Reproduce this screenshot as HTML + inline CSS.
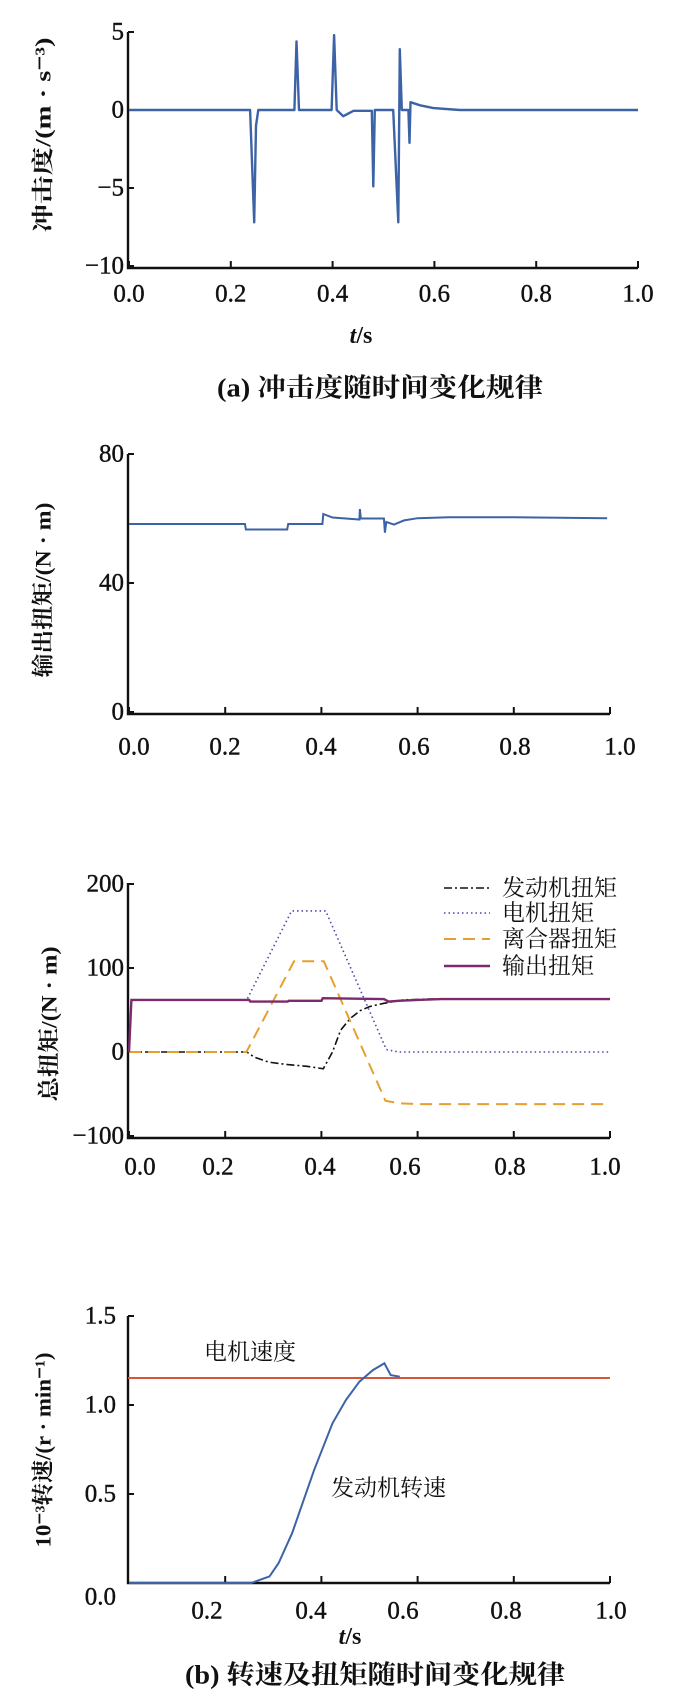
<!DOCTYPE html>
<html><head><meta charset="utf-8">
<style>
html,body{margin:0;padding:0;background:#fff;}
svg{display:block;}
text{font-family:"Liberation Serif","Noto Serif CJK SC",serif;fill:#111;}
</style></head>
<body>
<svg id="fig" width="700" height="1702" viewBox="0 0 700 1702" xmlns="http://www.w3.org/2000/svg"></svg>
<script>
// ---- Chart 1: jerk ----
const jerkT = [0,0.238,0.246,0.2495,0.254,0.325,0.329,0.334,0.398,0.403,0.408,0.421,0.441,0.477,0.480,0.483,0.519,0.529,0.532,0.536,0.549,0.551,0.553,0.572,0.598,0.650,1.0];
const jerkV = [0,0,-7.2,-1,0,0,4.4,0,0,4.8,0,-0.4,-0.05,-0.05,-4.9,0,0,-7.2,3.9,0,0,-2.1,0.5,0.3,0.12,0,0];
const jerkYTicks = [5,0,-5,-10];
const xTicks = [0,0.2,0.4,0.6,0.8,1.0];
const xTickLabels = ["0.0","0.2","0.4","0.6","0.8","1.0"];
// ---- Chart 2: output torque ----
const outT = [0,0.241,0.243,0.329,0.331,0.402,0.404,0.423,0.479,0.480,0.482,0.530,0.532,0.535,0.551,0.572,0.600,0.665,0.800,0.994];
const outV = [58.3,58.3,56.6,56.6,58.3,58.3,61.4,60.3,59.7,62.9,60.0,60.0,55.6,58.9,58.1,59.4,60.1,60.4,60.4,60.1];
const outYTicks = [80,40,0];
// ---- Chart 3: torques ----
const engT = [0,0.245,0.26,0.29,0.33,0.37,0.404,0.423,0.44,0.46,0.48,0.50,0.53,0.57,0.62,1.0];
const engV = [0,0,-6,-12,-15,-17,-20,0,26,40,49,54,58,62,63,63];
const motT = [0.005,0.245,0.338,0.409,0.535,0.56,1.0];
const motV = [62,62,168,168,3,0,0];
const cluT = [0,0.244,0.343,0.405,0.533,0.56,0.6,1.0];
const cluV = [0,0,108,108,-58,-61,-62,-62];
const totT = [0,0.005,0.25,0.252,0.33,0.332,0.40,0.403,0.53,0.54,0.56,0.6,0.65,1.0];
const totV = [0,62,62,60,60,61,61,64,63,60,61,62,63,63];
const totYTicks = [200,100,0,-100];
const legendLabels = ["发动机扭矩","电机扭矩","离合器扭矩","输出扭矩"];
// ---- Chart 4: speeds ----
const spdT = [0,0.254,0.292,0.311,0.339,0.385,0.423,0.451,0.479,0.507,0.531,0.544,0.563];
const spdV = [0,0,0.037,0.112,0.28,0.636,0.897,1.028,1.131,1.196,1.234,1.168,1.159];
const motorSpeed = [1.152];
const spdYTicks = [1.5,1.0,0.5,0.0];
const spdYTickLabels = ["1.5","1.0","0.5","0.0"];
const spdXTicks = [0.2,0.4,0.6,0.8,1.0];
const spdXTickLabels = ["0.2","0.4","0.6","0.8","1.0"];

const NS="http://www.w3.org/2000/svg";
const svg=document.getElementById('fig');
function mk(tag,attrs,parent){const e=document.createElementNS(NS,tag);for(const k in attrs)e.setAttribute(k,attrs[k]);(parent||svg).appendChild(e);return e;}
function txt(s,x,y,size,anchor,parent,extra){const e=mk('text',Object.assign({x:x,y:y,'font-size':size,'text-anchor':anchor||'middle','dominant-baseline':'central'},extra||{}),parent);e.textContent=s;return e;}
function linScale(d0,d1,r0,r1){return v=>r0+(v-d0)*(r1-r0)/(d1-d0);}
function pathD(ts,vs,sx,sy){return ts.map((t,i)=>(i?'L':'M')+sx(t).toFixed(1)+','+sy(vs[i]).toFixed(1)).join(' ');}
const TICKSTYLE={'stroke':'#111','stroke-width':0.4};
function axes(g,x0,x1,yTop,yAxis,sx,sy,yt,ytl,xt,xtl,xLabY,xLabX){
  const a=mk('path',{d:`M${x0},${yTop} L${x0},${yAxis} L${x1},${yAxis}`,fill:'none',stroke:'#111','stroke-width':2.4},g);
  
  
  yt.forEach((v,i)=>{
    const y=sy(v);
    mk('line',{x1:x0,x2:x0+6,y1:y,y2:y,stroke:'#111','stroke-width':2},g);
    const l=txt(ytl[i],x0-4,y,25,'end',g,TICKSTYLE);
    
    
  });
  xt.forEach((v,i)=>{
    const x=sx(v);
    mk('line',{x1:x,x2:x,y1:yAxis,y2:yAxis-7,stroke:'#111','stroke-width':2},g);
    const l=txt(xtl[i],xLabX?xLabX[i]:x,xLabY,25,'middle',g,TICKSTYLE);
    
    
  });
}
function ylabel(s,x,y,len,g){
  const e=txt(s,0,0,22,'middle',g,{transform:`translate(${x},${y}) rotate(-90)`,textLength:len,lengthAdjust:'spacingAndGlyphs','font-weight':'bold'});
  
  
}

// Chart 1
{
const g=mk('g',{});


const sx=linScale(0,1,129,638), sy=linScale(0,5,110,32);
axes(g,128,638,32,268,sx,sy,jerkYTicks,jerkYTicks.map(v=>v<0?'−'+(-v):String(v)),xTicks,xTickLabels,294);
const p=mk('path',{d:pathD(jerkT,jerkV,sx,sy),fill:'none',stroke:'#3c63a6','stroke-width':2.4,'stroke-linejoin':'round'},g);


ylabel('冲击度/(m · s⁻³)',43,135,195,g);
const xl=txt('',361,336,24,'middle',g,{'font-weight':'bold'});xl.innerHTML='<tspan font-style="italic">t</tspan>/s';


const c=txt('(a) 冲击度随时间变化规律',380,388,26,'middle',g,{textLength:326,lengthAdjust:'spacingAndGlyphs','font-weight':'bold'});


}
// Chart 2
{
const g=mk('g',{});


const sx=linScale(0,1,129,610), sy=linScale(0,80,712,454);
axes(g,128,610,454,714,sx,sy,outYTicks,outYTicks.map(String),xTicks,xTickLabels,747,[134,225,321,414,515,620]);
const p=mk('path',{d:pathD(outT,outV,sx,sy),fill:'none',stroke:'#3c63a6','stroke-width':2},g);


ylabel('输出扭矩/(N · m)',43,590,175,g);
}
// Chart 3
{
const g=mk('g',{});


const sx=linScale(0,1,129,610), sy=linScale(0,100,1052,968);
axes(g,128,610,883,1138,sx,sy,totYTicks,totYTicks.map(v=>v<0?'−'+(-v):String(v)),xTicks,xTickLabels,1167,[140,218,320,405,510,605]);
const styles=[
 {t:engT,v:engV,c:'#111',w:1.6,da:'8,3,2,3',n:'engine-torque-line'},
 {t:motT,v:motV,c:'#4a4aa8',w:1.6,da:'1.5,3',n:'motor-torque-line'},
 {t:cluT,v:cluV,c:'#e6a030',w:2,da:'12,7',n:'clutch-torque-line'},
 {t:totT,v:totV,c:'#7b2a6e',w:2.4,da:'',n:'output-torque-line'}];
styles.forEach((s,i)=>{
  const p=mk('path',{d:pathD(s.t,s.v,sx,sy),fill:'none',stroke:s.c,'stroke-width':s.w,'stroke-dasharray':s.da},g);
  
  
  const ly=[888,913,939,966][i];
  const l=mk('line',{x1:444,x2:490,y1:ly,y2:ly,stroke:s.c,'stroke-width':s.w,'stroke-dasharray':s.da},g);
  
  
  const t=txt(legendLabels[i],502,ly,23,'start',g);
  
  
});
ylabel('总扭矩/(N · m)',49,1024,155,g);
}
// Chart 4
{
const g=mk('g',{});


const sx=linScale(0,1,129,610), sy=linScale(0,1,1583,1405);
const a=mk('path',{d:'M128,1316 L128,1583 L610,1583',fill:'none',stroke:'#111','stroke-width':2.4},g);


spdYTicks.forEach((v,i)=>{
  const y=sy(v);
  if(v>0) mk('line',{x1:128,x2:134,y1:y,y2:y,stroke:'#111','stroke-width':2},g);
  const l=txt(spdYTickLabels[i],116,v===0?1597:y,25,'end',g,TICKSTYLE);
  
  
});
const xl2=[207,311,403,506,611];
spdXTicks.forEach((v,i)=>{
  const x=sx(v);
  mk('line',{x1:x,x2:x,y1:1583,y2:1576,stroke:'#111','stroke-width':2},g);
  const l=txt(spdXTickLabels[i],xl2[i],1611,25,'middle',g,TICKSTYLE);
  
  
});
const m=mk('line',{x1:128,x2:610,y1:sy(motorSpeed[0]),y2:sy(motorSpeed[0]),stroke:'#d9553a','stroke-width':2},g);


const p=mk('path',{d:pathD(spdT,spdV,sx,sy),fill:'none',stroke:'#3c63a6','stroke-width':2},g);


const t1=txt('电机速度',204,1352,23,'start',g);


const t2=txt('发动机转速',331,1488,23,'start',g);


ylabel('10⁻³转速/(r · min⁻¹)',43,1450,195,g);
const xl=txt('',350,1637,24,'middle',g,{'font-weight':'bold'});xl.innerHTML='<tspan font-style="italic">t</tspan>/s';


const c=txt('(b) 转速及扭矩随时间变化规律',375,1675,26,'middle',g,{textLength:380,lengthAdjust:'spacingAndGlyphs','font-weight':'bold'});


}
</script>
</body></html>
